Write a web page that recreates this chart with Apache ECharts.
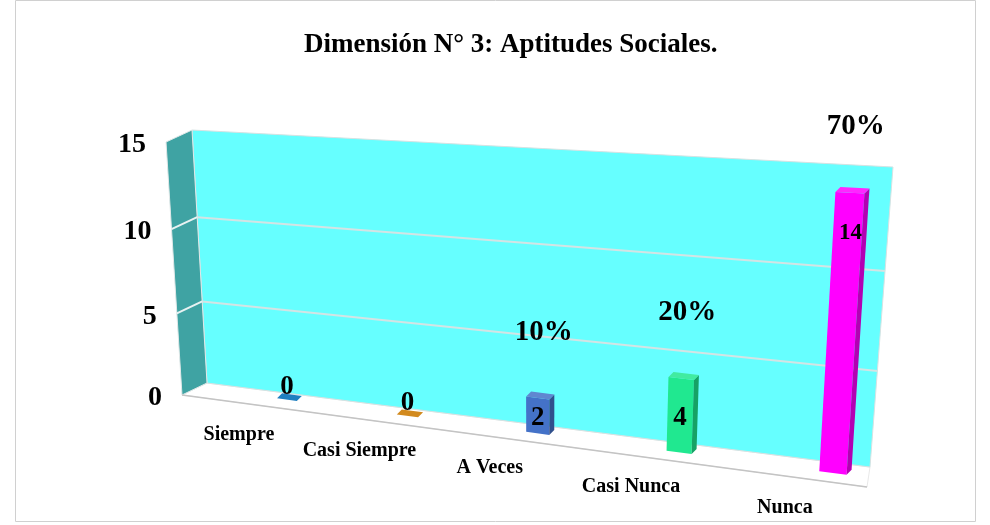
<!DOCTYPE html>
<html>
<head>
<meta charset="utf-8">
<script src="https://cdn.jsdelivr.net/npm/echarts@6/dist/echarts.min.js"></script>
<style>
body { margin: 0; background: #fff; }
#main { width: 990px; height: 525px; }
</style>
</head>
<body>
<div id="main"></div>
<script>
// datos de la dimension
var categories = ['Siempre', 'Casi Siempre', 'A Veces', 'Casi Nunca', 'Nunca'];
var frequencies = [0, 0, 2, 4, 14];
var percentages = [0, 0, 10, 20, 70];
var yTicks = [0, 5, 10, 15];
var barColors = ['#1f7fc0', '#d28a1e', '#4472c8', '#20e890', '#ff00ff'];

// camara "3D": esquinas (0,0) (1,0) (1,1) (0,1) de cada plano
var wallQuad = [[207, 383], [870, 467], [893, 167], [192, 130]];
var barQuad = [[230, 392], [915, 484], [939, 176], [214, 139]];
var frontShift = [-48, 3];
var depth = [5, -5];
var serif = '"Liberation Serif", "DejaVu Serif", serif';

function quadH(q) {
	var x0 = q[0][0], y0 = q[0][1], x1 = q[1][0], y1 = q[1][1];
	var x2 = q[2][0], y2 = q[2][1], x3 = q[3][0], y3 = q[3][1];
	var dx1 = x1 - x2, dx2 = x3 - x2, dx3 = x0 - x1 + x2 - x3;
	var dy1 = y1 - y2, dy2 = y3 - y2, dy3 = y0 - y1 + y2 - y3;
	var den = dx1 * dy2 - dx2 * dy1;
	var g = (dx3 * dy2 - dx2 * dy3) / den;
	var h = (dx1 * dy3 - dx3 * dy1) / den;
	return {
		a : x1 - x0 + g * x1, b : x3 - x0 + h * x3, c : x0,
		d : y1 - y0 + g * y1, e : y3 - y0 + h * y3, f : y0,
		g : g, h : h
	};
}
var Hw = quadH(wallQuad);
var Hb = quadH(barQuad);

function proj(H, uv, shift) {
	var u = uv[0], v = uv[1];
	var w = H.g * u + H.h * v + 1;
	var s = shift || [0, 0];
	return [(H.a * u + H.b * v + H.c) / w + s[0], (H.d * u + H.e * v + H.f) / w + s[1]];
}
// valor de datos -> (u,v) normalizado usando las escalas del grid
function toUV(params, api, xv, yv) {
	var p = api.coord([xv, yv]);
	var cs = params.coordSys;
	return [(p[0] - cs.x) / cs.width, (cs.y + cs.height - p[1]) / cs.height];
}
function add(p, d) {
	return [p[0] + d[0], p[1] + d[1]];
}
// aclarar (f>1) u oscurecer (f<1) un color hex
function shade(hex, f) {
	var n = parseInt(hex.slice(1), 16);
	var rgb = [(n >> 16) & 255, (n >> 8) & 255, n & 255].map(function(c) {
		return f > 1 ? Math.round(c + (255 - c) * (f - 1)) : Math.round(c * f);
	});
	return 'rgb(' + rgb.join(',') + ')';
}

function renderWalls(params, api) {
	var xMax = 5, yMax = yTicks[yTicks.length - 1];
	var c00 = toUV(params, api, 0, 0), c10 = toUV(params, api, xMax, 0);
	var c11 = toUV(params, api, xMax, yMax), c01 = toUV(params, api, 0, yMax);
	var f00 = proj(Hb, c00, frontShift), f10 = proj(Hb, c10, frontShift), f01 = proj(Hb, c01, frontShift);
	var w00 = proj(Hw, c00), w10 = proj(Hw, c10), w11 = proj(Hw, c11), w01 = proj(Hw, c01);
	return {
		type : 'group',
		children : [ {
			type : 'polygon',
			shape : { points : [ f00, f10, w10, w00 ] },
			style : { fill : '#ffffff', stroke : '#e8e8e8', lineWidth : 1 }
		}, {
			type : 'polygon',
			shape : { points : [ w00, w10, w11, w01 ] },
			style : { fill : '#66ffff', stroke : '#d6e2e2', lineWidth : 1 }
		}, {
			type : 'polygon',
			shape : { points : [ f00, f01, w01, w00 ] },
			style : { fill : '#3fa3a3', stroke : '#e0e8e8', lineWidth : 1 }
		}, {
			type : 'line',
			shape : { x1 : f00[0], y1 : f00[1], x2 : f10[0], y2 : f10[1] },
			style : { stroke : '#c4c4c4', lineWidth : 1.5 }
		} ]
	};
}

function renderTick(params, api) {
	var v = api.value(1);
	var l = toUV(params, api, 0, v), r = toUV(params, api, 5, v);
	var wl = proj(Hw, l), wr = proj(Hw, r), fl = proj(Hb, l, frontShift);
	var children = [];
	if (v > 0 && v < yTicks[yTicks.length - 1]) {
		children.push({
			type : 'line',
			shape : { x1 : wl[0], y1 : wl[1], x2 : wr[0], y2 : wr[1] },
			style : { stroke : '#d4e4e4', lineWidth : 2 }
		});
		children.push({
			type : 'line',
			shape : { x1 : fl[0], y1 : fl[1], x2 : wl[0], y2 : wl[1] },
			style : { stroke : '#e8f2f2', lineWidth : 2 }
		});
	}
	children.push({
		type : 'text',
		x : fl[0] - 20,
		y : fl[1] + 3,
		style : {
			text : String(v), fill : '#000', align : 'right', verticalAlign : 'middle',
			font : 'bold 28px ' + serif
		}
	});
	return { type : 'group', children : children };
}

function renderBar(params, api) {
	var xc = api.value(0), val = api.value(1), i = api.value(2);
	var half = 0.085;
	var L0 = proj(Hb, toUV(params, api, xc - half, 0));
	var R0 = proj(Hb, toUV(params, api, xc + half, 0));
	var L1 = proj(Hb, toUV(params, api, xc - half, val));
	var R1 = proj(Hb, toUV(params, api, xc + half, val));
	var base = barColors[i];
	var children = [];
	if (val > 0) {
		children.push({
			type : 'polygon',
			shape : { points : [ L0, R0, R1, L1 ] },
			style : { fill : base }
		});
		children.push({
			type : 'polygon',
			shape : { points : [ R0, add(R0, depth), add(R1, depth), R1 ] },
			style : { fill : shade(base, 0.7) }
		});
	}
	children.push({
		type : 'polygon',
		shape : { points : [ L1, R1, add(R1, depth), add(L1, depth) ] },
		style : { fill : val > 0 ? shade(base, 1.15) : base }
	});

	// etiqueta de frecuencia
	var lv = val > 8 ? val - 1.8 : val / 2;
	var lp = proj(Hb, toUV(params, api, xc, lv));
	children.push({
		type : 'text',
		x : lp[0] + (val > 8 ? 3 : 0),
		y : val === 0 ? lp[1] - 13 : lp[1] + 2,
		style : {
			text : String(val), fill : '#000', align : 'center', verticalAlign : 'middle',
			font : 'bold ' + (val > 8 ? 23 : 27) + 'px ' + serif
		}
	});
	// porcentaje, sobre la barra
	if (percentages[i] > 0) {
		var tp = proj(Hb, toUV(params, api, xc, val));
		children.push({
			type : 'text',
			x : tp[0] + 6,
			y : tp[1] - 66,
			style : {
				text : percentages[i] + '%', fill : '#000', align : 'center', verticalAlign : 'middle',
				font : 'bold 29px ' + serif
			}
		});
	}
	// categoria
	var cp = proj(Hb, toUV(params, api, xc, 0), frontShift);
	children.push({
		type : 'text',
		x : cp[0],
		y : cp[1] + 32,
		style : {
			text : categories[i], fill : '#000', align : 'center', verticalAlign : 'middle',
			font : 'bold 20px ' + serif
		}
	});
	return { type : 'group', children : children };
}

var myChart = echarts.init(document.getElementById('main'));
myChart.setOption({
	animation : false,
	title : {
		text : 'Dimensión N° 3: Aptitudes Sociales.',
		left : 299,
		top : 27,
		textStyle : { fontFamily : serif, fontWeight : 'bold', fontSize : 27, color : '#000' }
	},
	graphic : [ {
		type : 'rect',
		shape : { x : 15.5, y : 0.5, width : 960, height : 521 },
		style : { fill : 'none', stroke : '#d0d0d0', lineWidth : 1 },
		silent : true
	} ],
	grid : { left : 180, right : 110, top : 130, bottom : 90 },
	xAxis : { type : 'value', min : 0, max : 5, show : false },
	yAxis : { type : 'value', min : 0, max : 15, interval : 5, show : false },
	series : [ {
		name : 'paredes', type : 'custom', z : 1, silent : true,
		data : [ [ 0, 0 ] ],
		renderItem : renderWalls
	}, {
		name : 'ejes', type : 'custom', z : 2, silent : true,
		data : yTicks.map(function(v) { return [ 0, v ]; }),
		renderItem : renderTick
	}, {
		name : 'Frecuencia', type : 'custom', z : 3,
		data : frequencies.map(function(v, i) { return [ i + 0.5, v, i ]; }),
		renderItem : renderBar
	} ]
});
</script>
</body>
</html>
